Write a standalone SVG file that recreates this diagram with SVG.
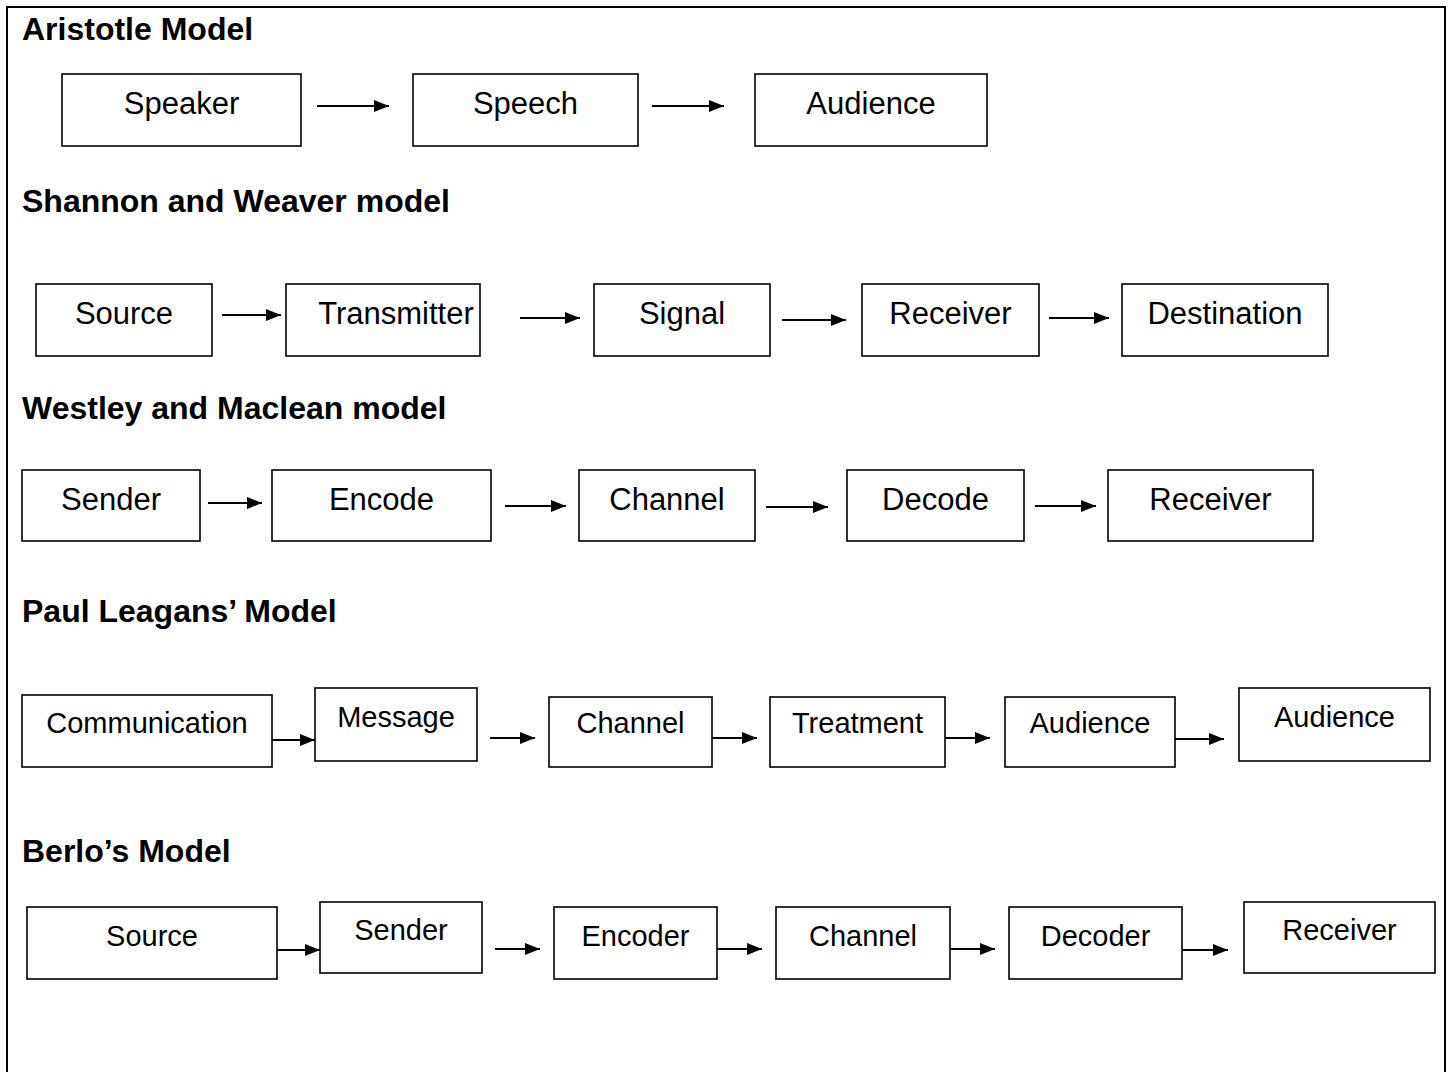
<svg xmlns="http://www.w3.org/2000/svg" width="1453" height="1072" viewBox="0 0 1453 1072">
<style>
.box{fill:#fff;stroke:#000;stroke-width:1.6}
.t{font-family:"Liberation Sans",Arial,sans-serif;font-size:31px;fill:#000;text-anchor:middle}
.s{font-size:29px}
.h{font-family:"Liberation Sans",Arial,sans-serif;font-size:32px;font-weight:bold;fill:#000}
.c{stroke:#000;stroke-width:2;fill:none;marker-end:url(#ah)}
</style>
<defs>
<marker id="ah" markerUnits="userSpaceOnUse" markerWidth="15" markerHeight="12" refX="15" refY="6" orient="auto">
<path d="M0,0 L15,6 L0,12 z" fill="#000"/>
</marker>
</defs>
<rect width="1453" height="1072" fill="#fff"/>
<path d="M7,1080 V7 H1445 V1080" fill="none" stroke="#000" stroke-width="2"/>

<g id="titles">
<text class="h" x="22" y="40">Aristotle Model</text>
<text class="h" x="22" y="212">Shannon and Weaver model</text>
<text class="h" x="22" y="419">Westley and Maclean model</text>
<text class="h" x="22" y="622">Paul Leagans’ Model</text>
<text class="h" x="22" y="862">Berlo’s Model</text>
</g>

<!-- Aristotle -->
<g id="a-speaker"><rect class="box" x="62" y="74" width="239" height="72"/><text class="t" x="181.5" y="114">Speaker</text></g>
<g id="a-speech"><rect class="box" x="413" y="74" width="225" height="72"/><text class="t" x="525.5" y="114">Speech</text></g>
<g id="a-audience"><rect class="box" x="755" y="74" width="232" height="72"/><text class="t" x="871" y="114">Audience</text></g>

<!-- Shannon -->
<g id="s-source"><rect class="box" x="36" y="284" width="176" height="72"/><text class="t" x="124" y="324">Source</text></g>
<g id="s-transmitter"><rect class="box" x="286" y="284" width="194" height="72"/><text class="t" x="396" y="324">Transmitter</text></g>
<g id="s-signal"><rect class="box" x="594" y="284" width="176" height="72"/><text class="t" x="682" y="324">Signal</text></g>
<g id="s-receiver"><rect class="box" x="862" y="284" width="177" height="72"/><text class="t" x="950.5" y="324">Receiver</text></g>
<g id="s-destination"><rect class="box" x="1122" y="284" width="206" height="72"/><text class="t" x="1225" y="324">Destination</text></g>

<!-- Westley -->
<g id="w-sender"><rect class="box" x="22" y="470" width="178" height="71"/><text class="t" x="111" y="510">Sender</text></g>
<g id="w-encode"><rect class="box" x="272" y="470" width="219" height="71"/><text class="t" x="381.5" y="510">Encode</text></g>
<g id="w-channel"><rect class="box" x="579" y="470" width="176" height="71"/><text class="t" x="667" y="510">Channel</text></g>
<g id="w-decode"><rect class="box" x="847" y="470" width="177" height="71"/><text class="t" x="935.5" y="510">Decode</text></g>
<g id="w-receiver"><rect class="box" x="1108" y="470" width="205" height="71"/><text class="t" x="1210.5" y="510">Receiver</text></g>

<!-- Paul Leagans -->
<g id="p-communication"><rect class="box" x="22" y="695" width="250" height="72"/><text class="t s" x="147" y="733">Communication</text></g>
<g id="p-message"><rect class="box" x="315" y="688" width="162" height="73"/><text class="t s" x="396" y="727">Message</text></g>
<g id="p-channel"><rect class="box" x="549" y="697" width="163" height="70"/><text class="t s" x="630.5" y="733">Channel</text></g>
<g id="p-treatment"><rect class="box" x="770" y="697" width="175" height="70"/><text class="t s" x="857.5" y="733">Treatment</text></g>
<g id="p-audience1"><rect class="box" x="1005" y="697" width="170" height="70"/><text class="t s" x="1090" y="733">Audience</text></g>
<g id="p-audience2"><rect class="box" x="1239" y="688" width="191" height="73"/><text class="t s" x="1334.5" y="727">Audience</text></g>

<!-- Berlo -->
<g id="b-source"><rect class="box" x="27" y="907" width="250" height="72"/><text class="t s" x="152" y="946">Source</text></g>
<g id="b-sender"><rect class="box" x="320" y="902" width="162" height="71"/><text class="t s" x="401" y="940">Sender</text></g>
<g id="b-encoder"><rect class="box" x="554" y="907" width="163" height="72"/><text class="t s" x="635.5" y="946">Encoder</text></g>
<g id="b-channel"><rect class="box" x="776" y="907" width="174" height="72"/><text class="t s" x="863" y="946">Channel</text></g>
<g id="b-decoder"><rect class="box" x="1009" y="907" width="173" height="72"/><text class="t s" x="1095.5" y="946">Decoder</text></g>
<g id="b-receiver"><rect class="box" x="1244" y="902" width="191" height="71"/><text class="t s" x="1339.5" y="940">Receiver</text></g>

<g id="connectors">
<line class="c" x1="317" y1="106" x2="389" y2="106"/>
<line class="c" x1="652" y1="106" x2="724" y2="106"/>

<line class="c" x1="222" y1="315" x2="281" y2="315"/>
<line class="c" x1="520" y1="318" x2="580" y2="318"/>
<line class="c" x1="782" y1="320" x2="846" y2="320"/>
<line class="c" x1="1049" y1="318" x2="1109" y2="318"/>

<line class="c" x1="208" y1="503" x2="262" y2="503"/>
<line class="c" x1="505" y1="506" x2="566" y2="506"/>
<line class="c" x1="766" y1="507" x2="828" y2="507"/>
<line class="c" x1="1035" y1="506" x2="1096" y2="506"/>

<line class="c" x1="272" y1="740" x2="315" y2="740"/>
<line class="c" x1="490" y1="738" x2="535" y2="738"/>
<line class="c" x1="712" y1="738" x2="757" y2="738"/>
<line class="c" x1="945" y1="738" x2="990" y2="738"/>
<line class="c" x1="1175" y1="739" x2="1224" y2="739"/>

<line class="c" x1="277" y1="950" x2="320" y2="950"/>
<line class="c" x1="495" y1="949" x2="540" y2="949"/>
<line class="c" x1="717" y1="949" x2="762" y2="949"/>
<line class="c" x1="950" y1="949" x2="995" y2="949"/>
<line class="c" x1="1182" y1="950" x2="1228" y2="950"/>
</g>
</svg>
